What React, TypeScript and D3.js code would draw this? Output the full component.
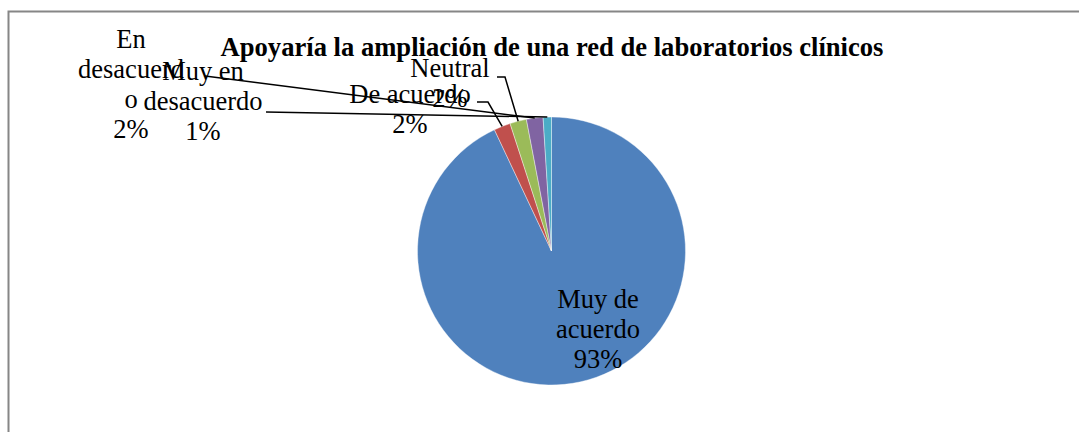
import React from "react";
import * as d3 from "d3";

const categories = ["Muy de acuerdo", "De acuerdo", "Neutral", "En desacuerdo", "Muy en desacuerdo"];
const values = [93, 2, 2, 2, 1];
const percentLabels = ["93%", "2%", "2%", "2%", "1%"];
const colors = ["#4F81BD", "#C0504D", "#9BBB59", "#8064A2", "#4BACC6"];
const title = "Apoyaría la ampliación de una red de laboratorios clínicos";

// label layout: lines of the label (text wrapping as in the reference)
const labelLines = [
  ["Muy de", "acuerdo", percentLabels[0]],
  ["De acuerdo", percentLabels[1]],
  ["Neutral", percentLabels[2]],
  ["En", "desacuerd", "o", percentLabels[3]],
  ["Muy en", "desacuerdo", percentLabels[4]],
];

const W = 1079;
const H = 432;
const cx = 551.5;
const cy = 251;
const R = 134;

const labelPos = [
  { x: 598, y: 308, leader: null as null | number[][] },
  { x: 410, y: 103, leader: [[477, 102], [488, 102]] },
  { x: 450, y: 77, leader: [[497, 77], [505, 77]] },
  { x: 131, y: 48, leader: [[205, 76]] },
  { x: 203, y: 80, leader: [[266, 112]] },
];
const lineStep = 30;

export default function App() {
  const pie = d3.pie<number>().sort(null).value((d) => d).startAngle(0).endAngle(2 * Math.PI);
  const arcs = pie(values);
  const arc = d3.arc<d3.PieArcDatum<number>>().innerRadius(0).outerRadius(R);
  const fontFamily = "'Times New Roman', 'Liberation Serif', Tinos, serif";

  return (
    <svg width={W} height={H} style={{ position: "absolute", left: 0, top: 0, background: "#fff" }}>
      <rect x={0} y={0} width={W} height={H} fill="#fff" />
      <path d={`M8.5,${H + 5} L8.5,11.5 L${W + 5},11.5`} fill="none" stroke="#868686" strokeWidth={2} />
      <text x={552} y={56} textAnchor="middle" style={{ fontFamily }} fontWeight="bold" fontSize={26.6} fill="#000">
        {title}
      </text>
      <g transform={`translate(${cx},${cy})`}>
        {arcs.map((a, i) => (
          <path key={categories[i]} d={arc(a) || ""} fill={colors[i]} stroke="#fff" strokeWidth={0.4} />
        ))}
      </g>
      {arcs.map((a, i) => {
        const lp = labelPos[i];
        if (!lp.leader) return null;
        const mid = (a.startAngle + a.endAngle) / 2;
        const ex = cx + R * Math.sin(mid);
        const ey = cy - R * Math.cos(mid);
        const pts = [...lp.leader, [ex, ey]];
        const line = d3.line()(pts as [number, number][]) || "";
        return <path key={"l" + i} d={line} fill="none" stroke="#000" strokeWidth={1.5} />;
      })}
      {labelLines.map((lines, i) => (
        <text key={"t" + i} textAnchor="middle" style={{ fontFamily }} fontSize={26.5} fill="#000">
          {lines.map((ln, j) => (
            <tspan key={j} x={labelPos[i].x} y={labelPos[i].y + j * lineStep}>
              {ln}
            </tspan>
          ))}
        </text>
      ))}
    </svg>
  );
}
